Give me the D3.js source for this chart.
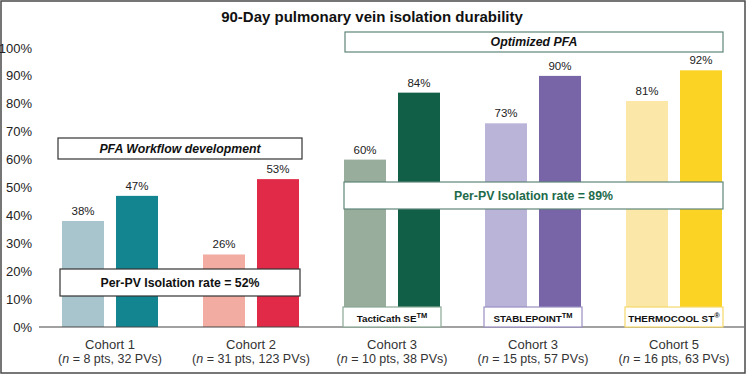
<!DOCTYPE html>
<html>
<head>
<meta charset="utf-8">
<script src="https://cdn.jsdelivr.net/npm/d3@7"></script>
<style>
  body { margin: 0; background: #fff; }
  svg { display: block; font-family: "Liberation Sans", Arial, sans-serif; }
</style>
</head>
<body>
<div class="main-container"></div>
<script>
// cohorts along the x axis
const cohorts = ["Cohort 1", "Cohort 2", "Cohort 3", "Cohort 3 ", "Cohort 5"];
const cohortSub = [["8", "32"], ["31", "123"], ["10", "38"], ["15", "57"], ["16", "63"]];
// two bars per cohort (light, dark)
const lightValues = [38, 26, 60, 73, 81];
const darkValues = [47, 53, 84, 90, 92];
const lightColors = ["#a8c4cc", "#f2aca2", "#98ad9c", "#bab4d9", "#fbe8a8"];
const darkColors = ["#138590", "#e02a47", "#115f47", "#7765a8", "#fad324"];
const catheters = ["TactiCath SE", "STABLEPOINT", "THERMOCOOL ST"];
const catheterMarks = ["TM", "TM", "®"];
const catheterBorders = ["#8aa795", "#9a90c2", "#f5d86a"];
const yTicks = [0, 10, 20, 30, 40, 50, 60, 70, 80, 90, 100];

const width = 746;
const height = 374;

const svg = d3.select(".main-container")
    .append("svg")
    .attr("width", width)
    .attr("height", height);

// outer frame
svg.append("rect")
    .attr("x", 1).attr("y", 1)
    .attr("width", width - 2).attr("height", height - 2)
    .attr("fill", "none")
    .attr("stroke", "#4a4a4a")
    .attr("stroke-width", 1.5);

svg.append("text")
    .attr("x", 372).attr("y", 22)
    .attr("text-anchor", "middle")
    .attr("font-size", 15)
    .attr("font-weight", "bold")
    .attr("fill", "#111")
    .text("90-Day pulmonary vein isolation durability");

const y = d3.scaleLinear().domain([0, 100]).range([327, 48]);
const x0 = d3.scaleBand().domain(cohorts).range([39.5, 744.5]);
const x1 = d3.scaleBand().domain([0, 1]).range([0, 96]).paddingInner(0.222);
const groupLeft = c => x0(c) + (x0.bandwidth() - 96) / 2;

// y axis labels
svg.append("g")
    .selectAll("text")
    .data(yTicks)
    .enter()
    .append("text")
    .attr("x", 32)
    .attr("y", d => y(d))
    .attr("dy", "0.35em")
    .attr("text-anchor", "end")
    .attr("font-size", 13)
    .attr("fill", "#222")
    .text(d => d + "%");

const bars = [];
cohorts.forEach((c, i) => {
    bars.push({ c: c, k: 0, v: lightValues[i], color: lightColors[i] });
    bars.push({ c: c, k: 1, v: darkValues[i], color: darkColors[i] });
});

svg.append("g")
    .selectAll("rect")
    .data(bars)
    .enter()
    .append("rect")
    .attr("x", d => groupLeft(d.c) + x1(d.k))
    .attr("y", d => y(d.v))
    .attr("width", x1.bandwidth())
    .attr("height", d => y(0) - y(d.v))
    .attr("fill", d => d.color);

svg.append("g")
    .selectAll("text")
    .data(bars)
    .enter()
    .append("text")
    .attr("x", d => groupLeft(d.c) + x1(d.k) + x1.bandwidth() / 2)
    .attr("y", d => y(d.v) - 6)
    .attr("text-anchor", "middle")
    .attr("font-size", 11.5)
    .attr("fill", "#222")
    .text(d => d.v + "%");

// baseline
svg.append("line")
    .attr("x1", 39).attr("x2", 744)
    .attr("y1", y(0)).attr("y2", y(0))
    .attr("stroke", "#444")
    .attr("stroke-width", 1.2);

// x labels
const xl = svg.append("g")
    .selectAll("g")
    .data(cohorts)
    .enter()
    .append("g")
    .attr("transform", d => "translate(" + (x0(d) + x0.bandwidth() / 2) + ",0)");

xl.append("text")
    .attr("y", 349)
    .attr("text-anchor", "middle")
    .attr("font-size", 13)
    .attr("fill", "#333")
    .text(d => d.trim());

const sub = xl.append("text")
    .attr("y", 363)
    .attr("text-anchor", "middle")
    .attr("font-size", 12.5)
    .attr("fill", "#333");
sub.append("tspan").text("(");
sub.append("tspan").attr("font-style", "italic").text("n");
sub.append("tspan").text((d, i) => " = " + cohortSub[i][0] + " pts, " + cohortSub[i][1] + " PVs)");

// annotation boxes
function box(x, yy, w, h, stroke, label, color, italic, size) {
    svg.append("rect")
        .attr("x", x).attr("y", yy)
        .attr("width", w).attr("height", h)
        .attr("fill", "#fff")
        .attr("stroke", stroke)
        .attr("stroke-width", 1.2);
    svg.append("text")
        .attr("x", x + w / 2).attr("y", yy + h / 2)
        .attr("dy", "0.36em")
        .attr("text-anchor", "middle")
        .attr("font-size", size)
        .attr("font-weight", "bold")
        .attr("font-style", italic ? "italic" : "normal")
        .attr("fill", color)
        .text(label);
}

const g1 = groupLeft(cohorts[0]);
const g2 = groupLeft(cohorts[1]) + 96;
const g3 = groupLeft(cohorts[2]);
const g5 = groupLeft(cohorts[4]) + 96;

box(g1 - 4, 138, g2 - g1 + 7, 21, "#333", "PFA Workflow development", "#111", true, 12.3);
box(g1 - 2, 269, g2 - g1 + 3, 27, "#333", "Per-PV Isolation rate = 52%", "#111", false, 12.3);
box(g3 + 1, 32, g5 - g3, 20, "#5f857a", "Optimized PFA", "#111", true, 12.3);
box(g3, 182, g5 - g3 + 1, 27, "#5f857a", "Per-PV Isolation rate = 89%", "#1d6a4b", false, 12.3);

// catheter tags
[2, 3, 4].forEach((ci, j) => {
    const left = groupLeft(cohorts[ci]) - 1;
    svg.append("rect")
        .attr("x", left).attr("y", 307)
        .attr("width", 98).attr("height", y(0) - 307)
        .attr("fill", "#fff")
        .attr("stroke", catheterBorders[j])
        .attr("stroke-width", 1.2);
    const t = svg.append("text")
        .attr("x", left + 49).attr("y", 321.5)
        .attr("text-anchor", "middle")
        .attr("font-size", 9.8)
        .attr("font-weight", "bold")
        .attr("fill", "#111");
    t.append("tspan").text(catheters[j]);
    t.append("tspan").attr("font-size", 7.5).attr("dy", -4).text(catheterMarks[j]);
});
</script>
</body>
</html>
